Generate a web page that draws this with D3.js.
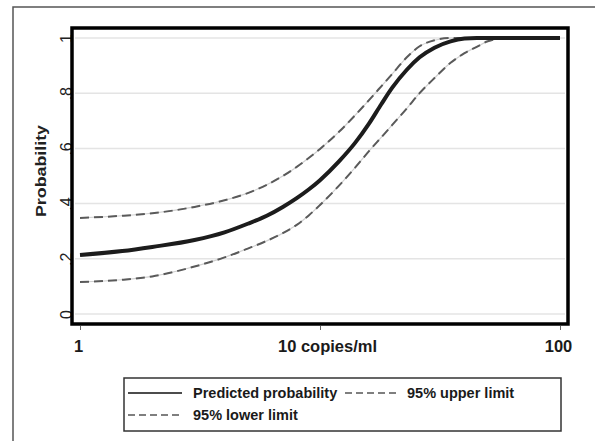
<!DOCTYPE html>
<html><head><meta charset="utf-8">
<script src="https://cdn.jsdelivr.net/npm/d3@7"></script>
<style>body{margin:0;background:#fff}svg{display:block}text{font-family:"Liberation Sans",Arial,sans-serif}</style>
</head><body><svg id="c" width="595" height="441"></svg>
<script>
const copies = [1,1.5,2,3,4,5,6,7,8,9,10,12,14,16,18,20,23,26,30,35,40,45,50,60,70,100];
const predicted = [0.214,0.228,0.243,0.268,0.296,0.327,0.356,0.388,0.42,0.452,0.485,0.553,0.62,0.69,0.76,0.82,0.885,0.93,0.965,0.988,0.998,1,1,1,1,1];
const upper = [0.348,0.356,0.365,0.388,0.412,0.438,0.468,0.5,0.533,0.566,0.598,0.66,0.72,0.775,0.825,0.87,0.93,0.97,0.992,1,1,1,1,1,1,1];
const lower = [0.116,0.124,0.136,0.172,0.205,0.237,0.265,0.293,0.323,0.358,0.395,0.465,0.53,0.59,0.64,0.685,0.745,0.8,0.855,0.91,0.945,0.968,0.988,1,1,1];
const xTicks = [1,10,100];
const xTickLabels = ["1","10 copies/ml","100"];
const yTicks = [0,0.2,0.4,0.6,0.8,1];
const yTickLabels = ["0",".2",".4",".6",".8","1"];
const yTitle = "Probability";
const legendLabels = ["Predicted probability","95% upper limit","95% lower limit"];

const svg = d3.select("#c");
const x = d3.scaleLog().domain([1,100]).range([80,560]);
const y = d3.scaleLinear().domain([0,1]).range([314,38]);

// outer frame
svg.append("rect").attr("x",13).attr("y",7).attr("width",620).attr("height",500)
  .attr("fill","none").attr("stroke","#555").attr("stroke-width",1.5);

// gridlines
svg.append("g").selectAll("line").data(yTicks).join("line")
  .attr("x1",75).attr("x2",565).attr("y1",d=>y(d)).attr("y2",d=>y(d))
  .attr("stroke","#e4e4e4").attr("stroke-width",1.5);

// y tick labels (rotated, tucked against the axis)
const yAxis = svg.append("g").attr("transform","translate(72,0)")
  .call(d3.axisLeft(y).tickValues(yTicks).tickSize(0).tickFormat((d,i)=>yTickLabels[i]));
yAxis.select(".domain").remove();
yAxis.selectAll(".tick text")
  .attr("x",0).attr("y",0).attr("dy",null).attr("dx",null)
  .attr("text-anchor","middle").attr("transform","rotate(-90)")
  .attr("font-size",16).attr("fill","#222");

// y title
svg.append("text").attr("transform","translate(46,171) rotate(-90)")
  .attr("text-anchor","middle").attr("font-size",15).attr("font-weight","bold").attr("fill","#222")
  .attr("textLength",92).attr("lengthAdjust","spacingAndGlyphs").text(yTitle);

// x axis ticks and labels
const xAxis = svg.append("g").attr("transform","translate(0,326)")
  .call(d3.axisBottom(x).tickValues(xTicks).tickSize(4).tickFormat((d,i)=>xTickLabels[i]));
xAxis.select(".domain").remove();
xAxis.selectAll("line").attr("stroke","#666").attr("stroke-width",1);
xAxis.selectAll("text").attr("dy",null).attr("transform",null)
  .attr("font-size",16.5).attr("font-weight","bold").attr("fill","#1a1a1a")
  .attr("x",(d,i)=> i===1?7:-2).attr("y",26);

// lines
const line = d3.line().x(d=>x(d[0])).y(d=>y(d[1])).curve(d3.curveMonotoneX);
function series(vals){return copies.map((c,i)=>[c,vals[i]]);}
[upper,lower].forEach(v=>{
  svg.append("path").attr("d",line(series(v))).attr("fill","none")
    .attr("stroke","#d0d0d0").attr("stroke-width",1.2);
  svg.append("path").attr("d",line(series(v))).attr("fill","none")
    .attr("stroke","#5a5a5a").attr("stroke-width",2).attr("stroke-dasharray","9,5");
});
svg.append("path").attr("d",line(series(predicted))).attr("fill","none")
  .attr("stroke","#1c1c1c").attr("stroke-width",4).attr("stroke-linejoin","round");

// plot box
svg.append("rect").attr("x",72).attr("y",28).attr("width",496).attr("height",296)
  .attr("fill","none").attr("stroke","#000").attr("stroke-width",3.5);

// legend
const lg = svg.append("g");
lg.append("rect").attr("x",124).attr("y",378).attr("width",437).attr("height",53)
  .attr("fill","none").attr("stroke","#333").attr("stroke-width",1.5);
const items = [
  {x1:128,x2:182,y:393,tx:193,dash:null,label:legendLabels[0]},
  {x1:345,x2:399,y:393,tx:407,dash:"7,4",label:legendLabels[1]},
  {x1:128,x2:182,y:415,tx:193,dash:"7,4",label:legendLabels[2]}
];
items.forEach(it=>{
  lg.append("line").attr("x1",it.x1).attr("x2",it.x2).attr("y1",it.y).attr("y2",it.y)
    .attr("stroke",it.dash?"#555":"#111").attr("stroke-width",1.5)
    .attr("stroke-dasharray",it.dash);
  lg.append("text").attr("x",it.tx).attr("y",it.y+5).attr("font-size",14.5)
    .attr("font-weight","bold").attr("fill","#1a1a1a").text(it.label);
});
</script></body></html>
